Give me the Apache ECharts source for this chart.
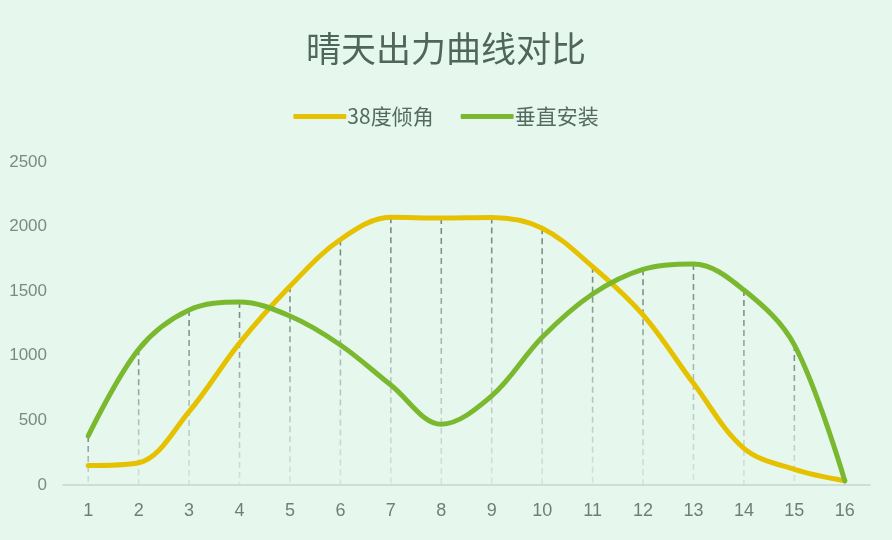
<!DOCTYPE html>
<html>
<head>
<meta charset="utf-8">
<script src="https://cdn.jsdelivr.net/npm/echarts@6/dist/echarts.min.js"></script>
<style>
html,body{margin:0;padding:0;background:#e6f8ee;}
#chart{width:892px;height:540px;}
</style>
</head>
<body>
<div id="chart"></div>
<script>
var categories = ['1','2','3','4','5','6','7','8','9','10','11','12','13','14','15','16'];
var tilt38 = [150, 172, 568, 1098, 1538, 1900, 2072, 2066, 2070, 1988, 1690, 1316, 787, 284, 121, 33];
var vertical = [380, 1050, 1354, 1416, 1308, 1084, 774, 470, 689, 1143, 1478, 1669, 1710, 1509, 1084, 33];
var yTicks = [0, 500, 1000, 1500, 2000, 2500];

var dropData = categories.map(function (c, i) { return [i, Math.max(tilt38[i], vertical[i])]; });

var chart = echarts.init(document.getElementById('chart'));
var textFont = '"Noto Sans CJK SC", "Liberation Sans", sans-serif';
chart.setOption({
  backgroundColor: '#e6f8ee',
  animation: false,
  title: {
    text: '晴天出力曲线对比',
    left: 'center',
    top: 26,
    textStyle: { fontSize: 35, fontWeight: 'normal', color: '#4f665a', fontFamily: textFont }
  },
  legend: {
    top: 101,
    left: 'center',
    itemWidth: 53,
    itemHeight: 5,
    itemGap: 27,
    icon: 'roundRect',
    textStyle: { fontSize: 21, color: '#566b5f', fontFamily: textFont, padding: [0, 0, 0, -4] },
    data: ['38度倾角', '垂直安装']
  },
  grid: { left: 63, right: 22, top: 162, bottom: 55, containLabel: false },
  xAxis: {
    type: 'category',
    data: categories,
    boundaryGap: true,
    axisLine: { lineStyle: { color: '#c5d6cc', width: 1.5 } },
    axisTick: { show: false },
    axisLabel: { fontSize: 18, color: '#6f7f76', margin: 17, fontFamily: '"Liberation Sans", Arial, sans-serif' }
  },
  yAxis: {
    type: 'value',
    min: yTicks[0],
    max: yTicks[yTicks.length - 1],
    interval: 500,
    axisLine: { show: false },
    axisTick: { show: false },
    splitLine: { show: false },
    axisLabel: {
      fontSize: 17, color: '#7b8b82', margin: 16, fontFamily: '"Liberation Sans", Arial, sans-serif',
      formatter: function (v) { return String(v); }
    }
  },
  series: [
    {
      type: 'custom',
      silent: true,
      z: 1,
      data: dropData,
      renderItem: function (params, api) {
        var top = api.coord([api.value(0), api.value(1)]);
        var bot = api.coord([api.value(0), 0]);
        return {
          type: 'line',
          shape: { x1: top[0], y1: top[1], x2: bot[0], y2: bot[1] },
          style: {
            stroke: new echarts.graphic.LinearGradient(0, top[1], 0, bot[1], [
              { offset: 0, color: 'rgba(110,125,118,0.95)' },
              { offset: 1, color: 'rgba(200,215,207,0.6)' }
            ], true),
            lineWidth: 1.6,
            lineDash: [6, 4]
          }
        };
      }
    },
    {
      name: '38度倾角',
      type: 'line',
      data: tilt38,
      smooth: 0.35,
      symbol: 'none',
      z: 3,
      itemStyle: { color: '#e5c100' },
      lineStyle: { color: '#e5c100', width: 5, cap: 'round' }
    },
    {
      name: '垂直安装',
      type: 'line',
      data: vertical,
      smooth: 0.35,
      symbol: 'none',
      z: 4,
      itemStyle: { color: '#7ab92f' },
      lineStyle: { color: '#7ab92f', width: 5, cap: 'round' }
    }
  ]
});
</script>
</body>
</html>
